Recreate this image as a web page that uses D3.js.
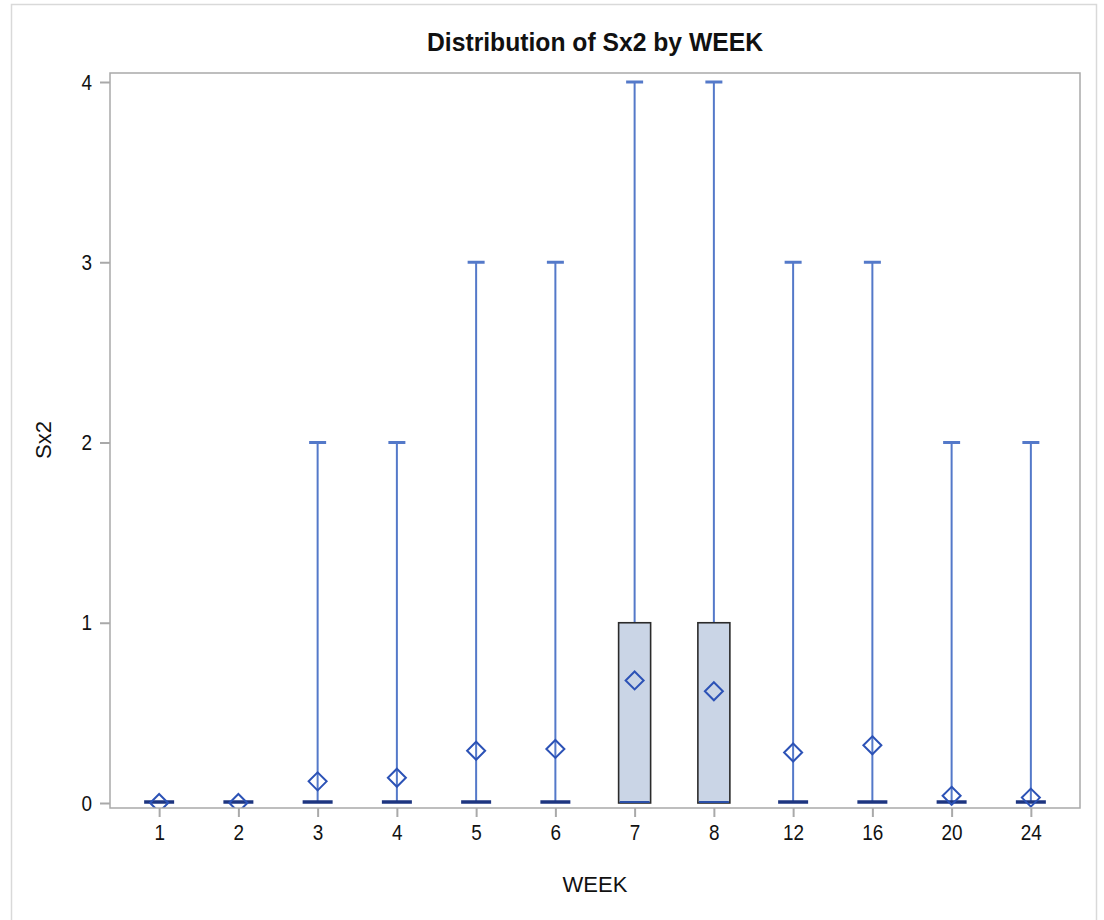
<!DOCTYPE html>
<html>
<head>
<meta charset="utf-8">
<script src="https://cdn.jsdelivr.net/npm/d3@7"></script>
<style>
  body { margin: 0; background: #fff; }
  text { fill: #111; }
</style>
</head>
<body>
<div id="vis"></div>
<script>
// box plot values
const weeks = ["1", "2", "3", "4", "5", "6", "7", "8", "12", "16", "20", "24"];
const minVals = [0, 0, 0, 0, 0, 0, 0, 0, 0, 0, 0, 0];
const q1Vals = [0, 0, 0, 0, 0, 0, 0, 0, 0, 0, 0, 0];
const medianVals = [0, 0, 0, 0, 0, 0, 0, 0, 0, 0, 0, 0];
const q3Vals = [0, 0, 0, 0, 0, 0, 1, 1, 0, 0, 0, 0];
const maxVals = [0, 0, 2, 2, 3, 3, 4, 4, 3, 3, 2, 2];
const meanVals = [0, 0, 0.12, 0.14, 0.29, 0.30, 0.68, 0.62, 0.28, 0.32, 0.04, 0.03];
const yTicks = [0, 1, 2, 3, 4];

const width = 1104;
const height = 920;
const font = '"Liberation Sans", Arial, sans-serif';

const plot = { left: 110, right: 1080, top: 73, bottom: 808 };

const svg = d3.select("#vis")
  .append("svg")
  .attr("width", width)
  .attr("height", height);

// outer frame
svg.append("rect")
  .attr("x", 11.5).attr("y", 4.5)
  .attr("width", 1085).attr("height", 930)
  .attr("fill", "none")
  .attr("stroke", "#d9d9d9")
  .attr("stroke-width", 1.5);

const x = d3.scalePoint()
  .domain(weeks)
  .range([plot.left, plot.right])
  .padding(0.62);

const y = d3.scaleLinear()
  .domain([0, 4])
  .range([803, 82]);

svg.append("clipPath").attr("id", "clip")
  .append("rect")
  .attr("x", plot.left).attr("y", plot.top)
  .attr("width", plot.right - plot.left)
  .attr("height", plot.bottom - plot.top);

const data = weeks.map((w, i) => ({
  week: w, min: minVals[i], q1: q1Vals[i], median: medianVals[i],
  q3: q3Vals[i], max: maxVals[i], mean: meanVals[i]
}));

const g = svg.append("g").attr("clip-path", "url(#clip)");
const boxW = 32;
const capW = 17;

// whiskers
g.selectAll(".whisker")
  .data(data.filter(d => d.max > d.q3))
  .join("line")
  .attr("x1", d => x(d.week)).attr("x2", d => x(d.week))
  .attr("y1", d => y(d.q3)).attr("y2", d => y(d.max))
  .attr("stroke", "#5479c9")
  .attr("stroke-width", 2);

g.selectAll(".cap")
  .data(data.filter(d => d.max > d.q3))
  .join("line")
  .attr("x1", d => x(d.week) - capW / 2).attr("x2", d => x(d.week) + capW / 2)
  .attr("y1", d => y(d.max)).attr("y2", d => y(d.max))
  .attr("stroke", "#5479c9")
  .attr("stroke-width", 3);

// boxes
g.selectAll(".box")
  .data(data.filter(d => d.q3 > d.q1))
  .join("rect")
  .attr("x", d => x(d.week) - boxW / 2)
  .attr("y", d => y(d.q3))
  .attr("width", boxW)
  .attr("height", d => y(d.q1) - y(d.q3))
  .attr("fill", "#cad5e6")
  .attr("stroke", "#2b2b2b")
  .attr("stroke-width", 1.6);

// medians
g.selectAll(".median")
  .data(data)
  .join("line")
  .attr("x1", d => x(d.week) - boxW / 2 + 1).attr("x2", d => x(d.week) + boxW / 2 - 1)
  .attr("y1", d => y(d.median) - 1).attr("y2", d => y(d.median) - 1)
  .attr("stroke", d => d.q3 > d.q1 ? "#2a4fa8" : "#1d3580")
  .attr("stroke-width", d => d.q3 > d.q1 ? 2 : 3.5);

// mean diamonds
const dr = 9;
g.selectAll(".mean")
  .data(data)
  .join("path")
  .attr("d", d => {
    const cx = x(d.week), cy = y(d.mean);
    return `M${cx},${cy - dr}L${cx + dr},${cy}L${cx},${cy + dr}L${cx - dr},${cy}Z`;
  })
  .attr("fill", "none")
  .attr("stroke", "#2c52b6")
  .attr("stroke-width", 2);

// plot frame
svg.append("rect")
  .attr("x", plot.left).attr("y", plot.top)
  .attr("width", plot.right - plot.left)
  .attr("height", plot.bottom - plot.top)
  .attr("fill", "none")
  .attr("stroke", "#a9a9a9")
  .attr("stroke-width", 1.5);

// axes
const xAxis = svg.append("g")
  .attr("transform", `translate(0,${plot.bottom})`)
  .call(d3.axisBottom(x).tickSize(9).tickPadding(7));

const yAxis = svg.append("g")
  .attr("transform", `translate(${plot.left},0)`)
  .call(d3.axisLeft(y).tickValues(yTicks).tickFormat(d3.format("d")).tickSize(10).tickPadding(8));

// condensed look for the tick labels (SAS style font)
const sx = 0.86;
[xAxis, yAxis].forEach(a => {
  a.select(".domain").remove();
  a.selectAll(".tick line").attr("stroke", "#a9a9a9").attr("stroke-width", 2);
  a.selectAll(".tick text")
    .style("font-family", font)
    .style("font-size", "22px")
    .attr("fill", "#111")
    .attr("transform", `scale(${sx},1)`);
});
yAxis.selectAll(".tick text").attr("x", -18 / sx);

svg.append("text")
  .attr("x", (plot.left + plot.right) / 2)
  .attr("y", 51)
  .attr("text-anchor", "middle")
  .attr("textLength", 336)
  .attr("lengthAdjust", "spacingAndGlyphs")
  .style("font-family", font)
  .style("font-weight", "bold")
  .style("font-size", "25px")
  .text("Distribution of Sx2 by WEEK");

svg.append("text")
  .attr("x", (plot.left + plot.right) / 2)
  .attr("y", 892)
  .attr("text-anchor", "middle")
  .style("font-family", font)
  .style("font-size", "22px")
  .attr("fill", "#222")
  .text("WEEK");

svg.append("text")
  .attr("transform", `translate(51,440) rotate(-90)`)
  .attr("text-anchor", "middle")
  .style("font-family", font)
  .style("font-size", "22px")
  .attr("fill", "#222")
  .text("Sx2");
</script>
</body>
</html>
